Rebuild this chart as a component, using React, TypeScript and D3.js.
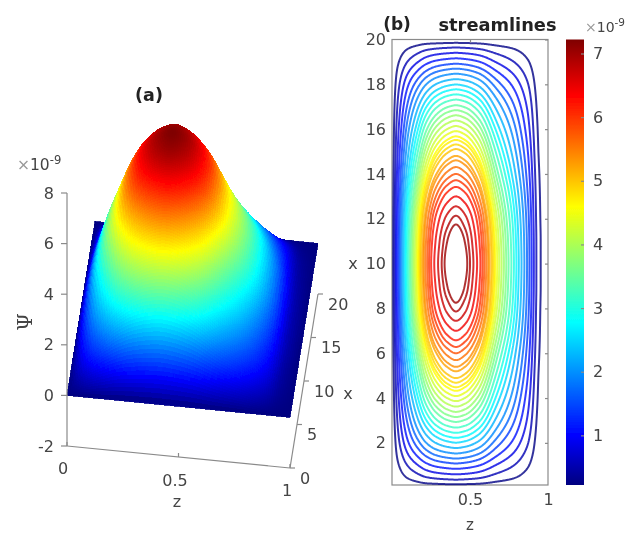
import React, { useEffect, useRef } from 'react';
import * as d3 from 'd3';

// stream function, units of 1e-9
const zNodes = [0, 0.02, 0.05, 0.1, 0.16, 0.22, 0.28, 0.35, 0.41, 0.47, 0.55, 0.67, 0.79, 0.87, 0.94, 1];
const xNodes = [0, 0.15, 1, 2, 3, 4, 5, 6, 7, 8, 9, 10, 11, 12, 13, 14, 15, 16, 17, 18, 19, 19.85, 20];
const psiTable = [
  [0, 0, 0, 0, 0, 0, 0, 0, 0, 0, 0, 0, 0, 0, 0, 0],
  [0, 0.02, 0.05, 0.1, 0.15, 0.2, 0.22, 0.24, 0.25, 0.24, 0.22, 0.15, 0.1, 0.05, 0.01, 0],
  [0, 0.12, 0.28, 0.54, 0.79, 1.02, 1.17, 1.26, 1.3, 1.26, 1.14, 0.8, 0.51, 0.28, 0.06, 0],
  [0, 0.22, 0.55, 1.05, 1.53, 1.95, 2.24, 2.43, 2.5, 2.43, 2.19, 1.54, 0.98, 0.55, 0.12, 0],
  [0, 0.31, 0.77, 1.46, 2.14, 2.73, 3.14, 3.41, 3.5, 3.41, 3.07, 2.16, 1.37, 0.77, 0.17, 0],
  [0, 0.39, 0.95, 1.82, 2.65, 3.4, 3.9, 4.23, 4.35, 4.23, 3.81, 2.68, 1.7, 0.95, 0.21, 0],
  [0, 0.45, 1.12, 2.13, 3.11, 3.98, 4.57, 4.96, 5.1, 4.96, 4.47, 3.14, 1.99, 1.12, 0.24, 0],
  [0, 0.52, 1.27, 2.42, 3.54, 4.53, 5.2, 5.64, 5.8, 5.64, 5.09, 3.57, 2.26, 1.27, 0.28, 0],
  [0, 0.57, 1.41, 2.7, 3.93, 5.04, 5.79, 6.28, 6.45, 6.28, 5.66, 3.97, 2.52, 1.41, 0.31, 0],
  [0, 0.62, 1.52, 2.91, 4.24, 5.43, 6.23, 6.76, 6.95, 6.76, 6.1, 4.28, 2.71, 1.52, 0.33, 0],
  [0, 0.64, 1.58, 3.01, 4.39, 5.62, 6.46, 7.01, 7.2, 7.01, 6.31, 4.44, 2.81, 1.58, 0.35, 0],
  [0, 0.65, 1.6, 3.05, 4.45, 5.7, 6.55, 7.1, 7.3, 7.1, 6.4, 4.5, 2.85, 1.6, 0.35, 0],
  [0, 0.64, 1.58, 3.01, 4.39, 5.62, 6.46, 7.01, 7.2, 7.01, 6.31, 4.44, 2.81, 1.58, 0.35, 0],
  [0, 0.62, 1.52, 2.91, 4.24, 5.43, 6.23, 6.76, 6.95, 6.76, 6.1, 4.28, 2.71, 1.52, 0.33, 0],
  [0, 0.57, 1.41, 2.7, 3.93, 5.04, 5.79, 6.28, 6.45, 6.28, 5.66, 3.97, 2.52, 1.41, 0.31, 0],
  [0, 0.52, 1.27, 2.42, 3.54, 4.53, 5.2, 5.64, 5.8, 5.64, 5.09, 3.57, 2.26, 1.27, 0.28, 0],
  [0, 0.45, 1.12, 2.13, 3.11, 3.98, 4.57, 4.96, 5.1, 4.96, 4.47, 3.14, 1.99, 1.12, 0.24, 0],
  [0, 0.39, 0.95, 1.82, 2.65, 3.4, 3.9, 4.23, 4.35, 4.23, 3.81, 2.68, 1.7, 0.95, 0.21, 0],
  [0, 0.31, 0.77, 1.46, 2.14, 2.73, 3.14, 3.41, 3.5, 3.41, 3.07, 2.16, 1.37, 0.77, 0.17, 0],
  [0, 0.22, 0.55, 1.05, 1.53, 1.95, 2.24, 2.43, 2.5, 2.43, 2.19, 1.54, 0.98, 0.55, 0.12, 0],
  [0, 0.12, 0.28, 0.54, 0.79, 1.02, 1.17, 1.26, 1.3, 1.26, 1.14, 0.8, 0.51, 0.28, 0.06, 0],
  [0, 0.02, 0.05, 0.1, 0.15, 0.2, 0.22, 0.24, 0.25, 0.24, 0.22, 0.15, 0.1, 0.05, 0.01, 0],
  [0, 0, 0, 0, 0, 0, 0, 0, 0, 0, 0, 0, 0, 0, 0, 0],
];
const contourLevels = [
  0.25, 0.53, 0.82, 1.11, 1.4, 1.67, 1.95, 2.24, 2.51, 2.74, 2.97, 3.2, 3.44, 3.64, 3.84, 4.04,
  4.24, 4.42, 4.6, 4.72, 4.87, 5.02, 5.24, 5.38, 5.59, 5.8, 5.99, 6.19, 6.45, 6.7, 6.9, 7.03,
];

const jetStops = [0, 0.11, 0.365, 0.625, 0.875, 1];
const jetColors = ['#00007f', '#0000ff', '#00ffff', '#ffff00', '#ff0000', '#7f0000'];

const psiTicks = [-2, 0, 2, 4, 6, 8];
const surfZTicks = [0, 0.5, 1];
const surfXTicks = [0, 5, 10, 15, 20];
const panelXTicks = [2, 4, 6, 8, 10, 12, 14, 16, 18, 20];
const panelZTicks = [0.5, 1];
const barTicks = [1, 2, 3, 4, 5, 6, 7];

const FONT = '"DejaVu Sans", sans-serif';
const INK = '#444';
const AXIS = '#8a8a8a';

// monotone cubic through read-off nodes, only used to draw smooth marks between them
function smooth(xs: number[], ys: number[]) {
  const n = xs.length;
  const d = d3.range(n - 1).map((i) => (ys[i + 1] - ys[i]) / (xs[i + 1] - xs[i]));
  const m = d3.range(n).map((i) => {
    if (i === 0) return d[0];
    if (i === n - 1) return d[n - 2];
    if (d[i - 1] * d[i] <= 0) return 0;
    return (2 * d[i - 1] * d[i]) / (d[i - 1] + d[i]);
  });
  return (t: number) => {
    const i = Math.max(0, Math.min(n - 2, d3.bisectRight(xs, t) - 1));
    const h = xs[i + 1] - xs[i];
    const s = (t - xs[i]) / h;
    return (
      (2 * s ** 3 - 3 * s ** 2 + 1) * ys[i] +
      (s ** 3 - 2 * s ** 2 + s) * h * m[i] +
      (-2 * s ** 3 + 3 * s ** 2) * ys[i + 1] +
      (s ** 3 - s ** 2) * h * m[i + 1]
    );
  };
}

function fineGrid(nz: number, nx: number) {
  const zs = d3.range(nz).map((i) => i / (nz - 1));
  const xs = d3.range(nx).map((j) => (20 * j) / (nx - 1));
  const cols = zNodes.map((_, c) => {
    const f = smooth(xNodes, psiTable.map((r) => r[c]));
    return xs.map(f);
  });
  const rows = xs.map((_, j) => {
    const f = smooth(zNodes, cols.map((col) => col[j]));
    return zs.map(f);
  });
  return { zs, xs, rows };
}

function scaleMark(g: any, x: number, y: number, size: number) {
  const t = g.append('text').attr('x', x).attr('y', y).attr('dominant-baseline', 'central')
    .attr('font-family', FONT).attr('font-size', size).attr('fill', INK);
  t.append('tspan').attr('fill', '#999').text('×');
  t.append('tspan').text('10');
  t.append('tspan').attr('dy', -5).attr('font-size', size * 0.75).text('-9');
}

function drawSurface(root: any) {
  const g = root.append('g');
  const pz = d3.scaleLinear().domain([0, 1]);
  const py = d3.scaleLinear().domain([-2, 8]).range([446, 193]);
  // orthographic view: each data axis adds a screen offset
  const project = (z: number, x: number, psi: number): [number, number] => [
    67 + pz.range([0, 223])(z) + (x * 28) / 20,
    py(psi) + pz.range([0, 22])(z) - (x * 174) / 20,
  ];
  const color = d3.scaleLinear<string>().domain(jetStops.map((s) => s * 7.3)).range(jetColors).clamp(true);

  const { zs, xs, rows } = fineGrid(121, 181);
  const faces: { d: string; c: string }[] = [];
  for (let j = xs.length - 2; j >= 0; j--) {
    for (let i = 0; i < zs.length - 1; i++) {
      const a = project(zs[i], xs[j], rows[j][i]);
      const b = project(zs[i + 1], xs[j], rows[j][i + 1]);
      const c = project(zs[i + 1], xs[j + 1], rows[j + 1][i + 1]);
      const e = project(zs[i], xs[j + 1], rows[j + 1][i]);
      faces.push({
        d: `M${a}L${b}L${c}L${e}Z`,
        c: color((rows[j][i] + rows[j][i + 1] + rows[j + 1][i + 1] + rows[j + 1][i]) / 4),
      });
    }
  }
  // crisp edges, otherwise the rows behind bleed through the seams between faces
  g.selectAll('path.face').data(faces).join('path').attr('class', 'face')
    .attr('d', (d: any) => d.d).attr('fill', (d: any) => d.c).attr('stroke', (d: any) => d.c)
    .attr('stroke-width', 0.8).attr('shape-rendering', 'crispEdges');

  const line = (p: [number, number], q: [number, number]) =>
    g.append('line').attr('x1', p[0]).attr('y1', p[1]).attr('x2', q[0]).attr('y2', q[1])
      .attr('stroke', AXIS).attr('stroke-width', 1.2);
  const label = (x: number, y: number, t: string, anchor = 'middle') =>
    g.append('text').attr('x', x).attr('y', y).attr('text-anchor', anchor).attr('dominant-baseline', 'central')
      .attr('font-family', FONT).attr('font-size', 16).attr('fill', INK).text(t);

  line(project(0, 0, -2), project(0, 0, 8));
  line(project(0, 0, -2), project(1, 0, -2));
  line(project(1, 0, -2), project(1, 20, -2));

  psiTicks.forEach((v) => {
    const p = project(0, 0, v);
    line([p[0] - 6, p[1]], p);
    label(p[0] - 13, p[1], String(v), 'end');
  });
  const zLabelPos = [[63, 468], [175, 480], [287, 490]];
  surfZTicks.forEach((v, i) => {
    const p = project(v, 0, -2);
    line(p, [p[0], p[1] - 4]);
    label(zLabelPos[i][0], zLabelPos[i][1], String(v));
  });
  surfXTicks.forEach((v) => {
    const p = project(1, v, -2);
    line(p, [p[0] + 5, p[1]]);
    label(p[0] + 10, p[1] + 10, String(v), 'start');
  });
  label(177, 501, 'z');
  label(348, 393, 'x');
  g.append('text').attr('transform', 'translate(25,322) rotate(-90)').attr('text-anchor', 'middle')
    .attr('dominant-baseline', 'central').attr('font-family', '"DejaVu Serif", serif').attr('font-size', 20)
    .attr('fill', INK).text('Ψ');
  scaleMark(g, 17, 165, 15.5);
  g.append('text').attr('x', 149).attr('y', 95).attr('text-anchor', 'middle').attr('dominant-baseline', 'central')
    .attr('font-family', FONT).attr('font-weight', 'bold').attr('font-size', 17.5).attr('fill', '#222').text('(a)');
}

function drawContours(root: any) {
  const g = root.append('g');
  const left = 392, right = 548, top = 39.5, bottom = 485;
  const zScale = d3.scaleLinear().domain([0, 1]).range([left, right]);
  const xScale = d3.scaleLinear().domain([0.12, 20]).range([bottom, top]);
  const cScale = d3.scaleLinear<string>().domain(jetStops.map((s) => 0.22 + s * 7)).range(jetColors).clamp(true);

  g.append('rect').attr('x', left).attr('y', top).attr('width', right - left).attr('height', bottom - top)
    .attr('fill', 'none').attr('stroke', AXIS).attr('stroke-width', 1.2);

  const nz = 261, nx = 401;
  const { rows } = fineGrid(nz, nx);
  const contours = d3.contours().size([nz, nx]).thresholds(contourLevels)(rows.flat());
  const toScreen = d3.geoTransform({
    point(px: number, py: number) {
      this.stream.point(zScale((px - 0.5) / (nz - 1)), xScale((20 * (py - 0.5)) / (nx - 1)));
    },
  });
  const path = d3.geoPath(toScreen);
  g.append('g').selectAll('path').data(contours).join('path')
    .attr('d', (d: any) => path(d)).attr('fill', 'none')
    .attr('stroke', (d: any) => cScale(d.value)).attr('stroke-width', 2).attr('stroke-opacity', 0.8);

  const axisStyle = (a: any) => {
    a.select('.domain').remove();
    a.selectAll('line').attr('stroke', AXIS).attr('stroke-width', 1.2);
    a.selectAll('text').attr('font-family', FONT).attr('font-size', 16).attr('fill', INK);
  };
  g.append('g').attr('transform', `translate(${left},0)`)
    .call(d3.axisLeft(xScale).tickValues(panelXTicks).tickSize(0).tickPadding(6)).call(axisStyle);
  g.append('g').attr('transform', `translate(${right},0)`)
    .call(d3.axisLeft(xScale).tickValues(panelXTicks).tickSize(3).tickFormat(() => '')).call(axisStyle);
  g.append('g').attr('transform', `translate(0,${bottom})`)
    .call(d3.axisBottom(zScale).tickValues(panelZTicks).tickSize(0).tickPadding(9).tickFormat((d: any) => String(d))).call(axisStyle);
  g.append('g').attr('transform', `translate(0,${top})`)
    .call(d3.axisBottom(zScale).tickValues([0.5]).tickSize(3).tickFormat(() => '')).call(axisStyle);

  const text = (x: number, y: number, t: string, size = 16, bold = false) =>
    g.append('text').attr('x', x).attr('y', y).attr('text-anchor', 'middle').attr('dominant-baseline', 'central')
      .attr('font-family', FONT).attr('font-size', size).attr('font-weight', bold ? 'bold' : 'normal')
      .attr('fill', bold ? '#222' : INK).text(t);
  text(353, 263, 'x');
  text(470, 525, 'z', 15);
  text(397, 24, '(b)', 17, true);
  text(497.5, 24, 'streamlines', 17.8, true);

  // colour bar
  const barLeft = 566, barWidth = 18;
  const barScale = d3.scaleLinear().domain([0.22, 7.22]).range([bottom, top]);
  const grad = root.select('defs').append('linearGradient').attr('id', 'jet').attr('x1', 0).attr('y1', 1).attr('x2', 0).attr('y2', 0);
  grad.selectAll('stop').data(jetStops).join('stop')
    .attr('offset', (d: number) => d).attr('stop-color', (_: number, i: number) => jetColors[i]);
  g.append('rect').attr('x', barLeft).attr('y', top).attr('width', barWidth).attr('height', bottom - top).attr('fill', 'url(#jet)');
  g.append('g').attr('transform', `translate(${barLeft + barWidth},0)`)
    .call(d3.axisRight(barScale).tickValues(barTicks).tickSize(-3).tickPadding(9).tickFormat((d: any) => String(d))).call(axisStyle);
  scaleMark(g, 585, 27, 14);
}

export default function App() {
  const ref = useRef<SVGSVGElement>(null);
  useEffect(() => {
    const svg = d3.select(ref.current);
    svg.selectAll('*').remove();
    const defs = svg.append('defs');
    defs.append('filter').attr('id', 'soft').append('feGaussianBlur').attr('stdDeviation', 0.45);
    const root = svg.append('g').attr('filter', 'url(#soft)');
    root.append('defs');
    drawSurface(root);
    drawContours(root);
  }, []);
  return (
    <svg ref={ref} width={635} height={534} style={{ position: 'absolute', left: 0, top: 0, background: '#fff' }} />
  );
}
